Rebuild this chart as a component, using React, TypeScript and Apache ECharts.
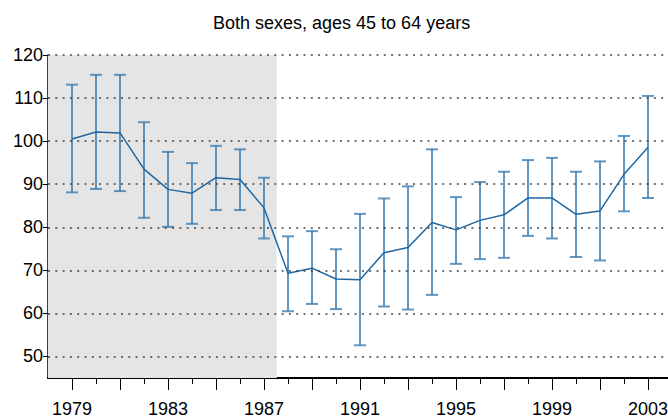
import React, { useEffect, useRef } from "react";
import * as echarts from "echarts";

const titleText = "Both sexes, ages 45 to 64 years";
const years = [1979, 1980, 1981, 1982, 1983, 1984, 1985, 1986, 1987, 1988, 1989, 1990, 1991, 1992, 1993, 1994, 1995, 1996, 1997, 1998, 1999, 2000, 2001, 2002, 2003];
const means = [100.5, 102.1, 101.9, 93.5, 88.8, 87.9, 91.5, 91.1, 84.5, 69.3, 70.5, 68.0, 67.8, 74.1, 75.3, 81.1, 79.4, 81.6, 82.9, 86.8, 86.8, 83.0, 83.8, 92.3, 98.6];
const upper = [113.1, 115.4, 115.4, 104.4, 97.5, 94.9, 98.9, 98.1, 91.5, 77.9, 79.1, 74.9, 83.1, 86.7, 89.5, 98.1, 87.0, 90.5, 92.9, 95.6, 96.1, 92.9, 95.3, 101.2, 110.5];
const lower = [88.1, 88.9, 88.4, 82.2, 80.1, 80.8, 84.0, 84.0, 77.4, 60.5, 62.2, 61.0, 52.6, 61.6, 60.9, 64.3, 71.5, 72.6, 72.9, 78.0, 77.4, 73.1, 72.3, 83.7, 86.8];
const majorTickYears = [1979, 1981, 1983, 1985, 1987, 1989, 1991, 1993, 1995, 1997, 1999, 2001, 2003];
const labelYears = [1979, 1983, 1987, 1991, 1995, 1999, 2003];
const yTicks = [50, 60, 70, 80, 90, 100, 110, 120];
const shadedRange = [1978, 1987.53];
const xRange = [1978, 2003.833];
const yRange = [45, 120];

const FONT = "'Liberation Sans', Arial, Helvetica, sans-serif";
const LINE_COLOR = "#1f67a3";
const BAR_COLOR = "#3b7db3";

export default function App() {
  const ref = useRef<HTMLDivElement>(null);
  useEffect(() => {
    document.body.style.margin = "0";
    if (!ref.current) return;
    const chart = echarts.init(ref.current, null, { renderer: "svg" });
    const lineData = years.map((y, i) => [y, means[i]]);
    const barData = years.map((y, i) => [y, lower[i], upper[i]]);
    const option: any = {
      animation: false,
      backgroundColor: "#ffffff",
      title: {
        text: titleText,
        left: 208,
        top: 9,
        textStyle: { fontSize: 18, fontWeight: "normal", color: "#000", fontFamily: FONT },
      },
      grid: { left: 48, right: 0, top: 55, bottom: 41, outerBoundsMode: "none", containLabel: false },
      xAxis: [
        {
          type: "value",
          min: xRange[0],
          max: xRange[1],
          position: "bottom",
          axisLine: { show: true, onZero: false, lineStyle: { color: "#000", width: 2 } },
          axisTick: { show: true, length: 6, customValues: years, lineStyle: { color: "#000", width: 1 } },
          axisLabel: { show: false },
          splitLine: { show: false },
        },
        {
          type: "value",
          min: xRange[0],
          max: xRange[1],
          position: "bottom",
          axisLine: { show: false, onZero: false },
          axisTick: { show: true, length: 12, customValues: majorTickYears, lineStyle: { color: "#000", width: 1 } },
          axisLabel: {
            show: true,
            customValues: labelYears,
            formatter: (v: number) => String(Math.round(v)),
            margin: 22,
            fontSize: 18,
            color: "#000",
            fontFamily: FONT,
            hideOverlap: false,
          },
          splitLine: { show: false },
        },
      ],
      yAxis: {
        type: "value",
        min: yRange[0],
        max: yRange[1],
        axisLine: { show: true, onZero: false, lineStyle: { color: "#000", width: 1.5 } },
        axisTick: { show: true, length: 5, customValues: yTicks, lineStyle: { color: "#000", width: 1 } },
        axisLabel: {
          show: true,
          customValues: yTicks,
          formatter: (v: number) => String(Math.round(v)),
          margin: 5,
          fontSize: 18,
          color: "#000",
          fontFamily: FONT,
        },
        splitLine: { show: false },
      },
      series: [
        {
          type: "line",
          xAxisIndex: 0,
          data: lineData,
          z: 0,
          symbol: "none",
          silent: true,
          lineStyle: { opacity: 0 },
          markArea: {
            silent: true,
            itemStyle: { color: "#e5e5e5" },
            data: [[{ xAxis: shadedRange[0] }, { xAxis: shadedRange[1] }]],
          },
        },
        {
          type: "custom",
          xAxisIndex: 0,
          z: 1,
          data: barData,
          encode: { x: 0, y: [1, 2] },
          renderItem: (params: any, api: any) => {
            const x = api.value(0);
            const pLo = api.coord([x, api.value(1)]);
            const pHi = api.coord([x, api.value(2)]);
            const hw = 6;
            const style = { stroke: BAR_COLOR, lineWidth: 2, opacity: 0.8 };
            return {
              type: "group",
              children: [
                { type: "line", shape: { x1: pLo[0], y1: pLo[1], x2: pHi[0], y2: pHi[1] }, style },
                { type: "line", shape: { x1: pLo[0] - hw, y1: pLo[1], x2: pLo[0] + hw, y2: pLo[1] }, style },
                { type: "line", shape: { x1: pHi[0] - hw, y1: pHi[1], x2: pHi[0] + hw, y2: pHi[1] }, style },
              ],
            };
          },
          markLine: {
            silent: true,
            symbol: ["none", "none"],
            label: { show: false },
            lineStyle: { color: "#444", width: 1.5, type: [2, 5.3], opacity: 1 },
            emphasis: { disabled: true },
            data: yTicks.map((v) => ({ yAxis: v })),
          },
        },
        {
          type: "line",
          xAxisIndex: 0,
          z: 3,
          data: lineData,
          symbol: "none",
          lineStyle: { color: LINE_COLOR, width: 1.5 },
          itemStyle: { color: LINE_COLOR },
        },
      ],
    };
    chart.setOption(option);
    return () => chart.dispose();
  }, []);
  return <div ref={ref} style={{ width: 668, height: 419 }} />;
}
